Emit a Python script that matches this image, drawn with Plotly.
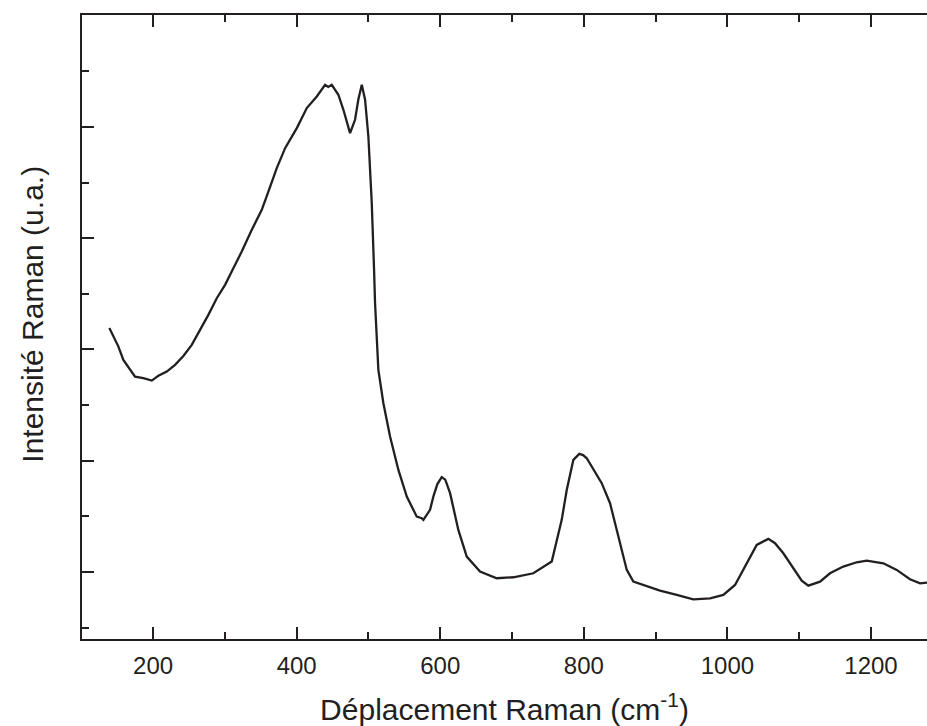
import plotly.graph_objects as go

# Raman shift (cm-1) and intensity (arbitrary units)
shift = [139.1, 144.7, 151.7, 158.6, 165.6, 174.9, 186.5, 198.2, 207.4, 219.1,
         230.6, 242.2, 253.9, 265.5, 277.0, 288.7, 300.3, 311.8, 323.5, 337.5,
         351.4, 360.6, 372.3, 383.9, 400.2, 414.1, 428.0, 439.6, 444.0, 448.9,
         458.1, 465.1, 474.4, 481.3, 486.0, 490.7, 495.3, 499.9, 504.6, 507.8,
         509.2, 513.8, 520.8, 530.1, 541.7, 553.4, 567.3, 574.2, 576.5, 585.8,
         590.4, 596.0, 602.1, 607.0, 613.7, 625.2, 636.9, 655.4, 678.7, 701.8,
         729.7, 755.3, 769.2, 776.2, 785.4, 793.7, 799.0, 804.1, 813.3, 824.9,
         836.5, 848.1, 859.8, 869.0, 887.6, 906.1, 929.4, 952.5, 975.8, 994.3,
         1010.6, 1024.5, 1040.8, 1057.0, 1066.3, 1077.9, 1091.8, 1103.5, 1112.7,
         1129.0, 1142.9, 1161.4, 1180.1, 1194.0, 1217.2, 1235.8, 1254.3, 1268.3,
         1277.6, 1285.0]
intensity = [3.192, 3.122, 3.026, 2.906, 2.846, 2.756, 2.742, 2.720, 2.763, 2.801,
             2.862, 2.942, 3.041, 3.176, 3.311, 3.461, 3.581, 3.731, 3.880, 4.076,
             4.255, 4.420, 4.630, 4.810, 4.990, 5.170, 5.274, 5.379, 5.360, 5.379,
             5.290, 5.155, 4.945, 5.065, 5.250, 5.379, 5.245, 4.915, 4.316, 3.722,
             3.416, 2.817, 2.517, 2.217, 1.917, 1.677, 1.497, 1.483, 1.468, 1.558,
             1.677, 1.790, 1.852, 1.830, 1.708, 1.378, 1.138, 1.003, 0.943, 0.952,
             0.988, 1.093, 1.468, 1.737, 2.007, 2.061, 2.050, 2.022, 1.917, 1.798,
             1.618, 1.317, 1.018, 0.913, 0.874, 0.832, 0.793, 0.754, 0.763, 0.793,
             0.883, 1.048, 1.243, 1.297, 1.258, 1.168, 1.033, 0.922, 0.877,
             0.913, 0.988, 1.048, 1.087, 1.102, 1.078, 1.018, 0.934, 0.898,
             0.904, 0.900]

x_ticks = [200, 400, 600, 800, 1000, 1200]
x_labels = ["200", "400", "600", "800", "1000", "1200"]
y_ticks = [1, 2, 3, 4, 5]

ink = "#231f20"
font = "Liberation Sans, Arial, sans-serif"

fig = go.Figure()
fig.add_trace(go.Scatter(x=shift, y=intensity, mode="lines",
                         line=dict(color=ink, width=2.3), hoverinfo="skip"))

fig.update_layout(
    width=927, height=726,
    margin=dict(l=82, r=0, t=15, b=87),
    paper_bgcolor="white", plot_bgcolor="white",
    showlegend=False,
    font=dict(family=font, color=ink),
    xaxis=dict(
        range=[101, 1278], tickvals=x_ticks, ticktext=x_labels,
        ticks="inside", ticklen=12, tickwidth=2, tickcolor=ink,
        showline=True, linecolor=ink, linewidth=2, mirror="ticks",
        showgrid=False, zeroline=False, ticklabelstandoff=4,
        tickfont=dict(size=24, family=font, color=ink),
        minor=dict(dtick=100, tick0=0, ticks="inside", ticklen=7, tickwidth=2,
                   tickcolor=ink, showgrid=False),
        title=dict(text="Déplacement Raman (cm<sup>-1</sup>)",
                   font=dict(size=30, family=font, color=ink), standoff=26),
    ),
    yaxis=dict(
        range=[0.397, 6.007], tickvals=y_ticks, showticklabels=False,
        ticks="inside", ticklen=12, tickwidth=2, tickcolor=ink,
        showline=True, linecolor=ink, linewidth=2, mirror=False,
        showgrid=False, zeroline=False,
        minor=dict(dtick=0.5, tick0=0, ticks="inside", ticklen=7, tickwidth=2,
                   tickcolor=ink, showgrid=False),
    ),
    annotations=[dict(
        text="Intensité Raman (u.a.)", textangle=-90,
        xref="paper", yref="paper", x=-0.059, y=0.52,
        xanchor="center", yanchor="middle", showarrow=False,
        font=dict(size=30, family=font, color=ink),
    )],
)

fig.write_html("out.html", config={"displayModeBar": False},
               post_script="document.body.style.margin='0';")
